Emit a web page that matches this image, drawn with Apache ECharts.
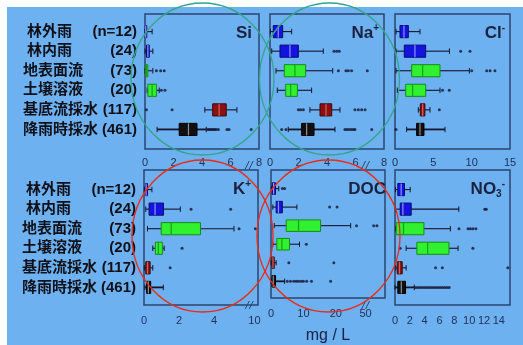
<!DOCTYPE html>
<html><head><meta charset="utf-8">
<script src="https://cdn.jsdelivr.net/npm/echarts@6/dist/echarts.min.js"></script>
<style>html,body{margin:0;padding:0;background:#fff}#c{width:523px;height:345px}</style>
</head><body><div id="c"></div>
<script>
// ---- categories ----
const CATS = ['林外雨','林内雨','地表面流','土壌溶液','基底流採水','降雨時採水'];
const NS = ['(n=12)','(24)','(73)','(20)','(117)','(461)'];

// ---- box values per row: [whisker min, Q1, median, Q3, whisker max] ----
const siBox = [[0,0.02,0.05,0.12,0.5],[0,0.1,0.2,0.3,0.55],[0,0.03,0.1,0.2,0.55],[0.15,0.2,0.5,0.8,1.0],[4.2,4.75,5.2,5.7,6.45],[0.85,2.4,3.05,3.65,4.3]];
const siOut = [[],[],[0.8,1.1,1.35],[1.15,1.4],[0.1,1.9],[4.4,4.5,4.6,4.7,4.8,4.9,5.0,5.15,5.75,5.9,7.45]];
const naBox = [[0.03,0.23,0.58,0.89,1.52],[0.12,0.7,1.4,1.99,3.74],[0.42,1.0,1.75,2.5,4.4],[0.51,1.1,1.45,1.92,2.92],[2.8,3.51,3.93,4.33,4.91],[1.28,2.22,2.57,3.09,4.56]];
const naOut = [[],[4.49,4.68,4.86],[4.8,5.33,5.5,5.73,6.83],[],[1.99,2.15,2.34,5.96,6.2,6.43,6.67],[0.82,1.12,5.26,5.4,5.55,5.7,5.85,5.96,7.14]];
const clBox = [[0.13,0.65,1.17,1.74,3.26],[0.13,1.21,2.6,4.0,7.1],[0.13,2.17,3.6,5.87,9.7],[0.3,1.39,2.3,4.0,5.87],[3.04,3.3,3.61,3.9,4.56],[1.52,2.82,3.26,3.78,6.52]];
const clOut = [[],[8.56,9.78],[10.0,11.96,12.4,13.04],[6.2,7.08],[5.78],[0.13]];
const kBox = [[0.02,0.08,0.12,0.2,0.45],[0.1,0.29,0.63,1.11,2.07],[0.2,0.98,1.55,3.22,5.13],[0.5,0.65,0.82,1.05,1.15],[0.02,0.1,0.2,0.35,0.5],[0.05,0.15,0.25,0.38,1.1]];
const kOut = [[],[2.68,4.94],[5.42,10.05],[2.17],[1.49],[]];
const docBox = [[0.1,0.37,0.8,1.4,2.4],[0.56,1.6,2.3,3.5,8.0],[1.0,4.7,8.5,15.3,24.6],[0.56,1.8,3.35,5.7,8.8],[0.05,0.3,0.6,1.0,1.6],[0.05,0.3,0.7,1.4,4.2]];
const docOut = [[3.5,4.2],[18.1,20.4],[26.4,52.5,53.5],[10.9],[5.5,19.4],[5,6,7,7.8,8.5,9.3,10,11,12.5,18.4]];
const no3Box = [[0.07,0.38,0.83,1.28,2.05],[0.07,0.7,1.06,2.18,8.6],[0.07,0.16,1.15,3.9,7.46],[1.5,2.95,4.4,7.27,8.5],[0.1,0.3,0.6,0.97,1.5],[0,0.38,0.85,1.42,2.6]];
const no3Out = [[],[12.1,12.3],[8.62,9.84,10.16,10.5,10.9],[0.7,10.5],[5.47,6.38,15.2],[2.8,3.1,3.4,3.7,4.0,4.3,4.6,4.9,5.2,5.5,5.8,6.1,6.4,6.7,7.0,7.3]];

// ---- tick labels ----
const siTicks = [0,2,4,6,8];
const naTicks = [0,2,4,6,8];
const clTicks = [0,5,10,15];
const kTicks = [0,2,4,10];
const docTicks = [0,10,20,50];
const no3Ticks = [0,2,4,6,8,10,12,14];
const kBreak = [6, 9.7];
const docBreak = [29.2, 50];

// ---- styles ----
const FONT = '"Liberation Sans", Arial, "Noto Sans CJK JP", sans-serif';
const ROWSTYLE = [
  {fill:'#1414e0', stroke:'#0a0a70', med:'#9090ff'},
  {fill:'#1414e0', stroke:'#0a0a70', med:'#9090ff'},
  {fill:'#30f030', stroke:'#178a17', med:'#17a017'},
  {fill:'#30f030', stroke:'#178a17', med:'#17a017'},
  {fill:'#8c1212', stroke:'#3a0606', med:'#d06060'},
  {fill:'#101010', stroke:'#000000', med:'#909090'}
];
const FRAME = '#2b4670';
const INK = '#1b2140';

const panels = [
  {box:siBox, out:siOut, ticks:siTicks, max:8, brk:null, grid:{left:145,top:14,width:114,height:135}, ymin:-0.9, ymax:6.0},
  {box:naBox, out:naOut, ticks:naTicks, max:8, brk:null, grid:{left:270,top:14,width:114,height:135}, ymin:-0.9, ymax:6.0},
  {box:clBox, out:clOut, ticks:clTicks, max:15, brk:null, grid:{left:395,top:14,width:115,height:135}, ymin:-0.9, ymax:6.0},
  {box:kBox, out:kOut, ticks:kTicks, max:10.2, brk:kBreak, grid:{left:144,top:170,width:114,height:135}, ymin:-1.0, ymax:5.9},
  {box:docBox, out:docOut, ticks:docTicks, max:56, brk:docBreak, grid:{left:271,top:170,width:114,height:135}, ymin:-1.0, ymax:5.9},
  {box:no3Box, out:no3Out, ticks:no3Ticks, max:15.5, brk:null, grid:{left:395,top:170,width:115,height:135}, ymin:-1.0, ymax:5.9}
];

const titleRich = {
  m:{fontSize:17, fontWeight:'bold', color:INK, fontFamily:FONT, lineHeight:20},
  sup:{fontSize:10, fontWeight:'bold', color:INK, fontFamily:FONT, lineHeight:6, verticalAlign:'top'},
  sub:{fontSize:10, fontWeight:'bold', color:INK, fontFamily:FONT, lineHeight:10, verticalAlign:'bottom'}
};
const titles = [
  {text:'{m|Si}', right:271, top:23},
  {text:'{m|Na}{sup|+}', right:144, top:23},
  {text:'{m|Cl}{sup|-}', right:18, top:23},
  {text:'{m|K}{sup|+}', right:272, top:179},
  {text:'{m|DOC}', right:137, top:179},
  {text:'{m|NO}{sub|3}{sup|-}', right:18, top:179}
].map(t => Object.assign(t, {padding:0, textStyle:{rich:titleRich}}));

function renderBox(params, api) {
  const r = api.value(0);
  const pMin = api.coord([api.value(1), r]);
  const pQ1 = api.coord([api.value(2), r]);
  const pMed = api.coord([api.value(3), r]);
  const pQ3 = api.coord([api.value(4), r]);
  const pMax = api.coord([api.value(5), r]);
  const rowH = Math.abs(api.size([0, 1])[1]);
  const h = rowH * 0.31, cap = rowH * 0.14;
  const st = ROWSTYLE[r];
  const y = pMed[1];
  const wl = {stroke:'#15152a', lineWidth: r === 5 ? 1.8 : 1.1};
  return {type:'group', children:[
    {type:'line', shape:{x1:pMin[0], y1:y, x2:pQ1[0], y2:y}, style:wl},
    {type:'line', shape:{x1:pQ3[0], y1:y, x2:pMax[0], y2:y}, style:wl},
    {type:'line', shape:{x1:pMin[0], y1:y-cap, x2:pMin[0], y2:y+cap}, style:{stroke:'#15152a', lineWidth:1}},
    {type:'line', shape:{x1:pMax[0], y1:y-cap, x2:pMax[0], y2:y+cap}, style:{stroke:'#15152a', lineWidth:1}},
    {type:'rect', shape:{x:pQ1[0], y:y-h, width:Math.max(pQ3[0]-pQ1[0], 1.5), height:2*h}, style:{fill:st.fill, stroke:st.stroke, lineWidth:1}},
    {type:'line', shape:{x1:pMed[0], y1:y-h, x2:pMed[0], y2:y+h}, style:{stroke:st.med, lineWidth:1.2}}
  ]};
}

const xAxis = panels.map((p, i) => {
  const ax = {
    gridIndex:i, type:'value', min:0, max:p.max,
    axisLine:{show:false}, axisTick:{show:false}, splitLine:{show:false},
    axisLabel:{customValues:p.ticks, margin: i < 3 ? 8 : 10, fontSize:11, color:'#233058', fontFamily:FONT}
  };
  if (p.brk) {
    ax.breaks = [{start:p.brk[0], end:p.brk[1], gap:0}];
    ax.breakArea = {show:false, itemStyle:{opacity:0}};
  }
  if (i === 4) {
    ax.name = 'mg / L'; ax.nameLocation = 'middle'; ax.nameGap = 30;
    ax.nameTextStyle = {fontSize:16, color:INK, fontFamily:FONT};
  }
  return ax;
});

const yAxis = panels.map((p, i) => ({
  gridIndex:i, type:'value', inverse:true, min:p.ymin, max:p.ymax,
  axisLine:{show:false}, axisTick:{show:false}, splitLine:{show:false},
  axisLabel:{
    show: i === 0 || i === 3, customValues:[0,1,2,3,4,5], margin:8,
    formatter: v => '{' + (v < 2 ? 'a2' : 'a') + '|' + CATS[v] + '}{b|' + NS[v] + '}',
    rich:{
      a:{width:68, align:'left', fontSize:15, fontWeight:'bold', color:'#101018', fontFamily:FONT},
      a2:{width:64, padding:[0,0,0,4], align:'left', fontSize:15, fontWeight:'bold', color:'#101018', fontFamily:FONT},
      b:{width:46, align:'right', fontSize:15, fontWeight:'bold', color:'#101018', fontFamily:FONT}
    }
  }
}));

const series = [];
panels.forEach((p, i) => {
  series.push({
    type:'custom', xAxisIndex:i, yAxisIndex:i, renderItem:renderBox,
    encode:{x:[1,2,3,4,5], y:0}, z:3,
    data: p.box.map((b, r) => [r].concat(b))
  });
  const pts = [];
  p.out.forEach((list, r) => list.forEach(v => pts.push([v, r])));
  series.push({
    type:'scatter', xAxisIndex:i, yAxisIndex:i, symbol:'circle', symbolSize:3, z:4,
    itemStyle:{color:'#141430'}, data:pts
  });
});

const chart = echarts.init(document.getElementById('c'), null, {renderer:'canvas'});
chart.setOption({
  animation:false,
  backgroundColor:'#ffffff',
  title:titles,
  grid: panels.map(p => Object.assign({show:true, borderColor:FRAME, borderWidth:1.5, backgroundColor:'transparent', containLabel:false}, p.grid)),
  xAxis, yAxis, series
});

// decorations: background panel, break marks, annotation ellipses
const gfx = [
  {type:'rect', z:-10, silent:true, shape:{x:7, y:7, width:516, height:338}, style:{fill:'#6db1f1'}}
];
panels.forEach((p, i) => {
  if (!p.brk) return;
  const x = chart.convertToPixel({xAxisIndex:i}, p.brk[0]);
  const top = p.grid.top, bot = p.grid.top + p.grid.height;
  [top - 5, bot].forEach(yc => {
    [-2, 2].forEach(dx => {
      gfx.push({type:'line', z:20, silent:true,
        shape:{x1:x+dx-2, y1:yc+4, x2:x+dx+2, y2:yc-4},
        style:{stroke:FRAME, lineWidth:1}});
    });
  });
});
const ell = [
  {cx:202.5, cy:79, rx:71.5, ry:76, c:'#35a58a'},
  {cx:329.5, cy:79, rx:70, ry:76, c:'#35a58a'},
  {cx:202.5, cy:236, rx:70.5, ry:76, c:'#ee2a14'},
  {cx:328.5, cy:236, rx:71.5, ry:76, c:'#ee2a14'}
];
ell.forEach(e => gfx.push({type:'ellipse', z:50, silent:true,
  shape:{cx:e.cx, cy:e.cy, rx:e.rx, ry:e.ry}, style:{fill:null, stroke:e.c, lineWidth:1.3}}));
chart.setOption({graphic: gfx});
</script>
</body></html>
